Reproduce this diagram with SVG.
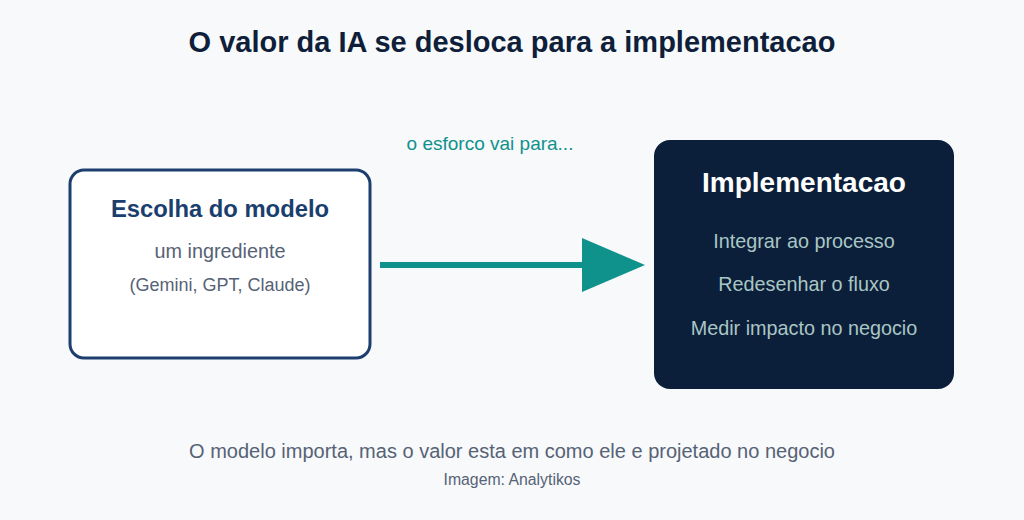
<svg xmlns="http://www.w3.org/2000/svg" width="1024" height="520" viewBox="0 0 1024 520">
<style>
text{font-family:"Liberation Sans",Arial,sans-serif;text-anchor:middle}
.title{font-size:29px;font-weight:bold;fill:#0f1f3a}
.h{font-weight:bold}
.sub{font-size:19.8px;fill:#566275}
.small{font-size:18px;fill:#566275}
.item{font-size:19.8px;fill:#a9c6c4}
</style>
<rect width="1024" height="520" fill="#f7f9fb"/>
<text class="title" x="512" y="52">O valor da IA se desloca para a implementacao</text>
<g id="connectors">
<line x1="380" y1="265" x2="590" y2="265" stroke="#0f918c" stroke-width="6"/>
<polygon points="582,238 645,265 582,292" fill="#0f918c"/>
<text x="490" y="150" style="font-size:19px;fill:#0f918c">o esforco vai para...</text>
</g>
<g id="node-modelo">
<rect x="70" y="170" width="300" height="188" rx="14" fill="#ffffff" stroke="#1e3f6e" stroke-width="3"/>
<text class="h" x="220" y="217" fill="#1a3e6e" style="font-size:23.8px">Escolha do modelo</text>
<text class="sub" x="220" y="258">um ingrediente</text>
<text class="small" x="220" y="291">(Gemini, GPT, Claude)</text>
</g>
<g id="node-implementacao">
<rect x="654" y="140" width="300" height="249" rx="16" fill="#0c1f3a"/>
<text class="h" x="804" y="192" fill="#ffffff" style="font-size:28px">Implementacao</text>
<text class="item" x="804" y="248">Integrar ao processo</text>
<text class="item" x="804" y="291">Redesenhar o fluxo</text>
<text class="item" x="804" y="335">Medir impacto no negocio</text>
</g>
<text x="512" y="458" style="font-size:20px;fill:#566275">O modelo importa, mas o valor esta em como ele e projetado no negocio</text>
<text x="512" y="485" style="font-size:15.8px;fill:#566275">Imagem: Analytikos</text>
</svg>
